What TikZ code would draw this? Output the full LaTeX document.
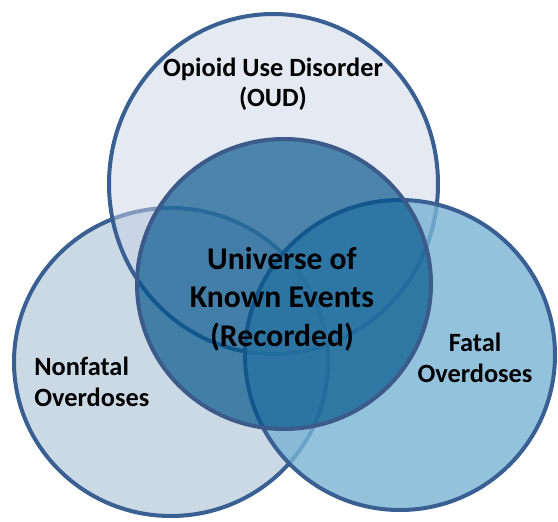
\documentclass[tikz,border=0pt]{standalone}
\usepackage{fontspec}
\setmainfont{Carlito}
\definecolor{rimblue}{HTML}{3A6093}
\definecolor{knownrim}{HTML}{3C5A8A}
\definecolor{oudfill}{HTML}{C9D3E6}
\definecolor{nonfatalfill}{HTML}{CBD9E5}
\definecolor{fatalfill}{HTML}{78B3D4}
\definecolor{knownfill}{HTML}{00548A}

\begin{document}
\begin{tikzpicture}[x=0.02cm,y=-0.02cm,
    venn/.style={draw=rimblue,line width=0.08cm},
    vennlabel/.style={font=\bfseries,inner sep=0pt,align=center}]
    \useasboundingbox (0,0) rectangle (558,521); % Keeps the margins...

    \coordinate (nonfatalc) at (171,362);
    \coordinate (oudc) at (273.5,184);
    \coordinate (fatalc) at (400,355);
    \coordinate (knownc) at (284,284);

    \filldraw[venn,fill=nonfatalfill] (nonfatalc) ellipse [x radius=157,y radius=154];
    \filldraw[venn,fill=oudfill,fill opacity=0.5] (oudc) ellipse [x radius=164.5,y radius=170];
    \filldraw[venn,fill=fatalfill,fill opacity=0.8] (fatalc) circle [radius=155];
    \filldraw[venn,draw=knownrim,fill=knownfill,fill opacity=0.67] (knownc) ellipse [x radius=147,y radius=145];

    \node[vennlabel,font=\bfseries\fontsize{15}{17.1}\selectfont] (oud) at (273,84) {Opioid Use Disorder\\(OUD)};
    \node[vennlabel,font=\bfseries\fontsize{18}{21.8}\selectfont] (known) at (282,299) {Universe of\\Known Events\\(Recorded)};
    \node[vennlabel,align=left,anchor=west,font=\bfseries\fontsize{15}{17.6}\selectfont] (nonfatal) at (34,382) {Nonfatal\\Overdoses};
    \node[vennlabel,font=\bfseries\fontsize{15}{17.6}\selectfont] (fatal) at (475,358) {Fatal\\Overdoses};
\end{tikzpicture}
\end{document}
